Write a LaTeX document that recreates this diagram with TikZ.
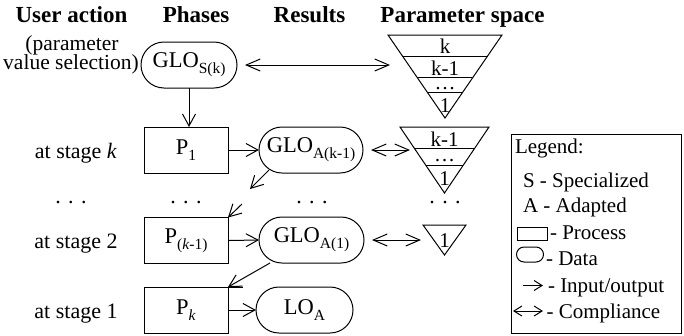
\documentclass[tikz,border=0pt]{standalone}
\usepackage{fontspec}
\setmainfont{Liberation Serif}
\usetikzlibrary{arrows.meta,shapes.misc,calc}
% lowered, smaller subscript used in the node labels
\newcommand\lowsub[1]{\raisebox{-0.25em}{\fontsize{15.5}{16}\selectfont #1}}
\begin{document}
\begin{tikzpicture}[x=1pt,y=-1pt,
  every node/.style={inner sep=0pt,outer sep=0pt},
  head/.style={font=\fontsize{23}{26}\selectfont\bfseries,anchor=base},
  txt/.style={font=\fontsize{22}{25}\selectfont,anchor=base},
  note/.style={font=\fontsize{21.5}{24}\selectfont,anchor=base},
  tri/.style={font=\fontsize{21}{24}\selectfont,anchor=base},
  leg/.style={font=\fontsize{21}{24}\selectfont,anchor=base west},
  proc/.style={draw,line width=1pt,minimum width=84pt,minimum height=46pt,
    font=\fontsize{22.5}{25}\selectfont},
  data/.style={draw,rounded rectangle,line width=1pt,minimum height=46pt,
    font=\fontsize{22.5}{25}\selectfont},
  edge/.style={line width=1pt},
  flow/.style={line width=1pt,-{Straight Barb[length=12pt,width=13pt]}},
  comply/.style={line width=1pt,
    {Straight Barb[length=14pt,width=12pt]}-{Straight Barb[length=14pt,width=12pt]}},
  legflow/.style={line width=1pt,-{Straight Barb[length=8pt,width=10pt]}},
  legcomply/.style={line width=1pt,
    {Straight Barb[length=8pt,width=10pt]}-{Straight Barb[length=8pt,width=10pt]}},
]
\useasboundingbox (0,0) rectangle (684,335);

% column headings
\node[head] (hUser)  at (71.5,22) {User action};
\node[head] (hPhase) at (196,22)  {Phases};
\node[head] (hRes)   at (309.5,22){Results};
\node[head] (hPar)   at (462.5,22){Parameter space};

% user action labels
\node[note] (sel1) at (72,50) {(parameter};
\node[note] (sel2) at (71,69.5) {value selection)};
\node[txt] (stK) at (76,158) {at stage \textit{k}};
\node[txt] (st2) at (76,248) {at stage 2};
\node[txt] (st1) at (76,318) {at stage 1};

% elided rows
\node[txt] (dU) at (71,203)  {.\,\,.\,\,.};
\node[txt] (dP) at (186,203) {.\,\,.\,\,.};
\node[txt] (dR) at (312,203) {.\,\,.\,\,.};
\node[txt] (dT) at (445,203) {.\,\,.\,\,.};

% phases and results
\node[data,minimum width=96pt]  (gS) at (189,65)    {GLO\lowsub{S(k)}};
\node[proc] (p1)  at (186,150) {P\lowsub{1}};
\node[data,minimum width=104pt] (gK) at (311,150)   {GLO\lowsub{A(k-1)}};
\node[proc] (pk1) at (186,240.5) {P\lowsub{(\textit{k}-1)}};
\node[data,minimum width=105pt] (g1) at (311.5,240) {GLO\lowsub{A(1)}};
\node[proc] (pk)  at (186,310) {P\lowsub{\textit{k}}};
\node[data,minimum width=97pt]  (lo) at (304.5,310) {LO\lowsub{A}};
\draw[edge] (pk.north east) -- ++(15,0);

% parameter space triangles
\coordinate (a1) at (388,35);  \coordinate (b1) at (502,35);  \coordinate (c1) at (445,118);
\draw[edge] (a1) -- (b1) -- (c1) -- cycle;
\foreach \t in {0.253,0.518,0.687}
  \draw[edge] ($(a1)!\t!(c1)$) -- ($(b1)!\t!(c1)$);
\node[tri] (t1k)  at (445,53.5)  {k};
\node[tri] (t1k1) at (445,75.5)  {k-1};
\node[tri] (t1d)  at (445,89)  {\textellipsis};
\node[tri] (t1o)  at (445,112) {1};

\coordinate (a2) at (400,127); \coordinate (b2) at (489,127); \coordinate (c2) at (444.5,193);
\draw[edge] (a2) -- (b2) -- (c2) -- cycle;
\foreach \t in {0.333,0.576}
  \draw[edge] ($(a2)!\t!(c2)$) -- ($(b2)!\t!(c2)$);
\node[tri] (t2k1) at (444.5,146.5) {k-1};
\node[tri] (t2d)  at (444.5,161) {\textellipsis};
\node[tri] (t2o)  at (444.5,185) {1};

\coordinate (a3) at (423,225); \coordinate (b3) at (466,225); \coordinate (c3) at (444.5,255);
\draw[edge] (a3) -- (b3) -- (c3) -- cycle;
\node[tri] (t3o) at (444.5,247) {1};

% ends of the compliance arrows beside the triangles
\coordinate (t1in) at (390,65);
\coordinate (t2in) at (410,150);
\coordinate (t3in) at (421,240);

% input / output flow
\draw[flow] (gS.south) -- (gS.south |- p1.north);
\draw[flow] (p1.east) -- (gK.west);
\coordinate (gapA) at (250,189);
\draw[flow] ([shift={(-42,20)}]gK.center) -- (gapA);
\coordinate (gapB) at (242,204);
\draw[flow] (gapB) -- (pk1.north east);
\draw[flow] (pk1.east) -- (g1.west);
\draw[flow] ([shift={(-41.5,23)}]g1.center) -- (pk.north east);
\draw[flow] (pk.east) -- (lo.west);

% compliance
\draw[comply] ([xshift=8]gS.east) -- (t1in);
\draw[comply] ([xshift=8]gK.east) -- (t2in);
\draw[comply] ([xshift=8]g1.east) -- (t3in);

% legend
\node[draw,line width=1pt,minimum width=170pt,minimum height=199pt] (legend) at (596.7,233.7) {};
\node[leg] (lTitle) at (515,153) {Legend:};
\node[leg] (lS) at (523,187) {S - Specialized};
\node[leg] (lA) at (523,212) {A - Adapted};
\node[draw,line width=1pt,minimum width=30pt,minimum height=13pt] (iRect) at (532,233.5) {};
\node[leg] (lP) at (550,239.5) {- Process};
\node[draw,rounded rectangle,line width=1pt,minimum width=27pt,minimum height=15pt] (iData) at (530,254.5) {};
\node[leg] (lD) at (546,265) {- Data};
\coordinate (iArA) at (523,285.5);
\coordinate (iArB) at (543,285.5);
\draw[legflow] (iArA) -- (iArB);
\node[leg] (lI) at (548,292) {- Input/output};
\coordinate (iCoA) at (513,311);
\coordinate (iCoB) at (543,311);
\draw[legcomply] (iCoA) -- (iCoB);
\node[leg] (lC) at (546.5,318.5) {- Compliance};
\end{tikzpicture}
\end{document}
